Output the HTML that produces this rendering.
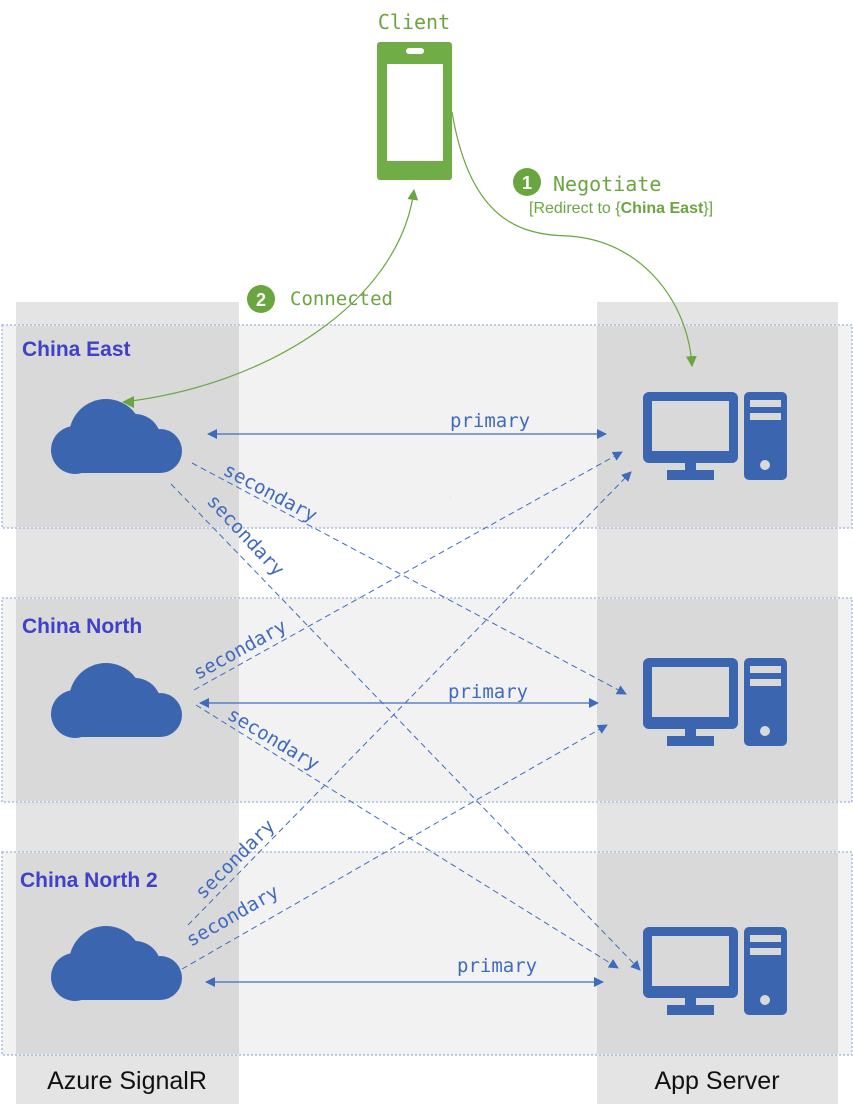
<!DOCTYPE html>
<html><head><meta charset="utf-8"><style>
html,body{margin:0;padding:0;background:#fff}
svg{display:block}
.mono{font-family:"DejaVu Sans Mono","Liberation Mono",monospace}
.sans{font-family:"Liberation Sans",sans-serif}
</style></head><body>
<svg width="853" height="1114" viewBox="0 0 853 1114" xmlns="http://www.w3.org/2000/svg">
<defs>
<marker id="ab" viewBox="0 0 10 10" refX="9" refY="5" markerWidth="10" markerHeight="10" markerUnits="userSpaceOnUse" orient="auto-start-reverse"><path d="M0,0 L10,5 L0,10z" fill="#3f6bbf"/></marker>
<marker id="ag" viewBox="0 0 10 10" refX="9" refY="5" markerWidth="11" markerHeight="11" markerUnits="userSpaceOnUse" orient="auto"><path d="M0,0 L10,5 L0,10z" fill="#6aa640"/></marker>
<g id="cloud" fill="#3c65b0">
<circle cx="75" cy="450" r="24"/><circle cx="160" cy="451" r="22"/><circle cx="106" cy="436" r="37"/><circle cx="135" cy="440" r="26"/><rect x="75" y="432" width="85" height="41"/>
</g>
<g id="pc" fill="#3c65b0">
<rect x="643" y="392" width="95" height="71" rx="6"/><rect x="652" y="401" width="77" height="50" fill="#d9d9d9"/>
<rect x="685" y="461" width="11" height="10"/><rect x="667" y="470" width="47" height="10"/>
<rect x="744" y="392" width="43" height="88" rx="5"/><rect x="750" y="400" width="31" height="7" fill="#d9d9d9"/><rect x="750" y="413" width="31" height="7" fill="#d9d9d9"/>
<circle cx="765" cy="465" r="5" fill="#d9d9d9"/>
</g>
</defs>
<rect x="16" y="302" width="223" height="802" fill="#e4e4e4"/>
<rect x="597" y="302" width="241" height="802" fill="#e4e4e4"/>
<g stroke="#a9bde0" stroke-width="1.5" stroke-dasharray="2,2">
<rect x="2" y="325" width="850" height="203" fill="#f2f2f2"/>
<rect x="2" y="598" width="850" height="204" fill="#f2f2f2"/>
<rect x="2" y="852" width="850" height="203" fill="#f2f2f2"/>
</g>
<g fill="#d9d9d9">
<rect x="16" y="326" width="223" height="201"/><rect x="597" y="326" width="241" height="201"/>
<rect x="16" y="599" width="223" height="202"/><rect x="597" y="599" width="241" height="202"/>
<rect x="16" y="853" width="223" height="201"/><rect x="597" y="853" width="241" height="201"/>
</g>
<use href="#cloud"/><use href="#cloud" y="264"/><use href="#cloud" y="527"/>
<use href="#pc"/><use href="#pc" y="266"/><use href="#pc" y="535"/>
<rect x="377" y="42" width="75" height="138" rx="3" fill="#70ad47"/>
<rect x="387" y="64" width="56" height="97" fill="#fff"/>
<rect x="406" y="48" width="18" height="6" rx="3" fill="#fff"/>
<text x="414" y="29" text-anchor="middle" class="mono" font-size="20" fill="#6aa640">Client</text>
<g fill="none" stroke="#6aa640" stroke-width="1.2">
<path d="M452,112 C470,220 520,235 568,236 C640,240 688,300 692,366" marker-end="url(#ag)"/>
<path d="M123,402 C270,385 400,300 414,190" marker-end="url(#ag)"/>
</g>
<path d="M122,402 L134,396 L134,408z" fill="#6aa640"/>
<circle cx="527" cy="182" r="14" fill="#6aa640"/>
<text x="527" y="189" text-anchor="middle" class="sans" font-size="18" font-weight="bold" fill="#fff">1</text>
<text x="553" y="191" class="mono" font-size="20" fill="#6aa640">Negotiate</text>
<text x="529" y="213" class="sans" font-size="16" fill="#6aa640">[Redirect to {<tspan font-weight="bold">China East</tspan>}]</text>
<circle cx="261" cy="299" r="14" fill="#6aa640"/>
<text x="261" y="306" text-anchor="middle" class="sans" font-size="18" font-weight="bold" fill="#fff">2</text>
<text x="290" y="305" class="mono" font-size="19" fill="#6aa640">Connected</text>
<g class="sans" font-size="21" font-weight="bold" fill="#4040c8">
<text x="22" y="356">China East</text>
<text x="22" y="633">China North</text>
<text x="20" y="887">China North 2</text>
</g>
<g stroke="#3f6bbf" stroke-width="1.3" fill="none">
<line x1="208" y1="434" x2="606" y2="434" marker-start="url(#ab)" marker-end="url(#ab)"/>
<line x1="200" y1="703" x2="598" y2="703" marker-start="url(#ab)" marker-end="url(#ab)"/>
<line x1="206" y1="982" x2="603" y2="982" marker-start="url(#ab)" marker-end="url(#ab)"/>
</g>
<g class="mono" font-size="19" fill="#3f6bbf">
<text x="450" y="427">primary</text>
<text x="448" y="698">primary</text>
<text x="457" y="972">primary</text>
</g>
<g stroke="#3f6bbf" stroke-width="1" fill="none" stroke-dasharray="6,4">
<line x1="192" y1="463" x2="626" y2="694" marker-end="url(#ab)"/>
<line x1="171" y1="484" x2="640" y2="970" marker-end="url(#ab)"/>
<line x1="194" y1="690" x2="622" y2="452" marker-end="url(#ab)"/>
<line x1="196" y1="705" x2="618" y2="968" marker-end="url(#ab)"/>
<line x1="188" y1="925" x2="631" y2="472" marker-end="url(#ab)"/>
<line x1="182" y1="969" x2="607" y2="725" marker-end="url(#ab)"/>
</g>
<g class="mono" font-size="19" fill="#3f6bbf">
<text transform="translate(222,474) rotate(28)">secondary</text>
<text transform="translate(206,502) rotate(47)">secondary</text>
<text transform="translate(198,680) rotate(-29)">secondary</text>
<text transform="translate(226,718) rotate(31)">secondary</text>
<text transform="translate(203,900) rotate(-45)">secondary</text>
<text transform="translate(191,947) rotate(-30)">secondary</text>
</g>
<text x="450" y="498" font-size="3" fill="#000">.</text>
<text x="127" y="1089" text-anchor="middle" class="sans" font-size="25" fill="#111">Azure SignalR</text>
<text x="717" y="1089" text-anchor="middle" class="sans" font-size="25" fill="#111">App Server</text>
</svg>
</body></html>
